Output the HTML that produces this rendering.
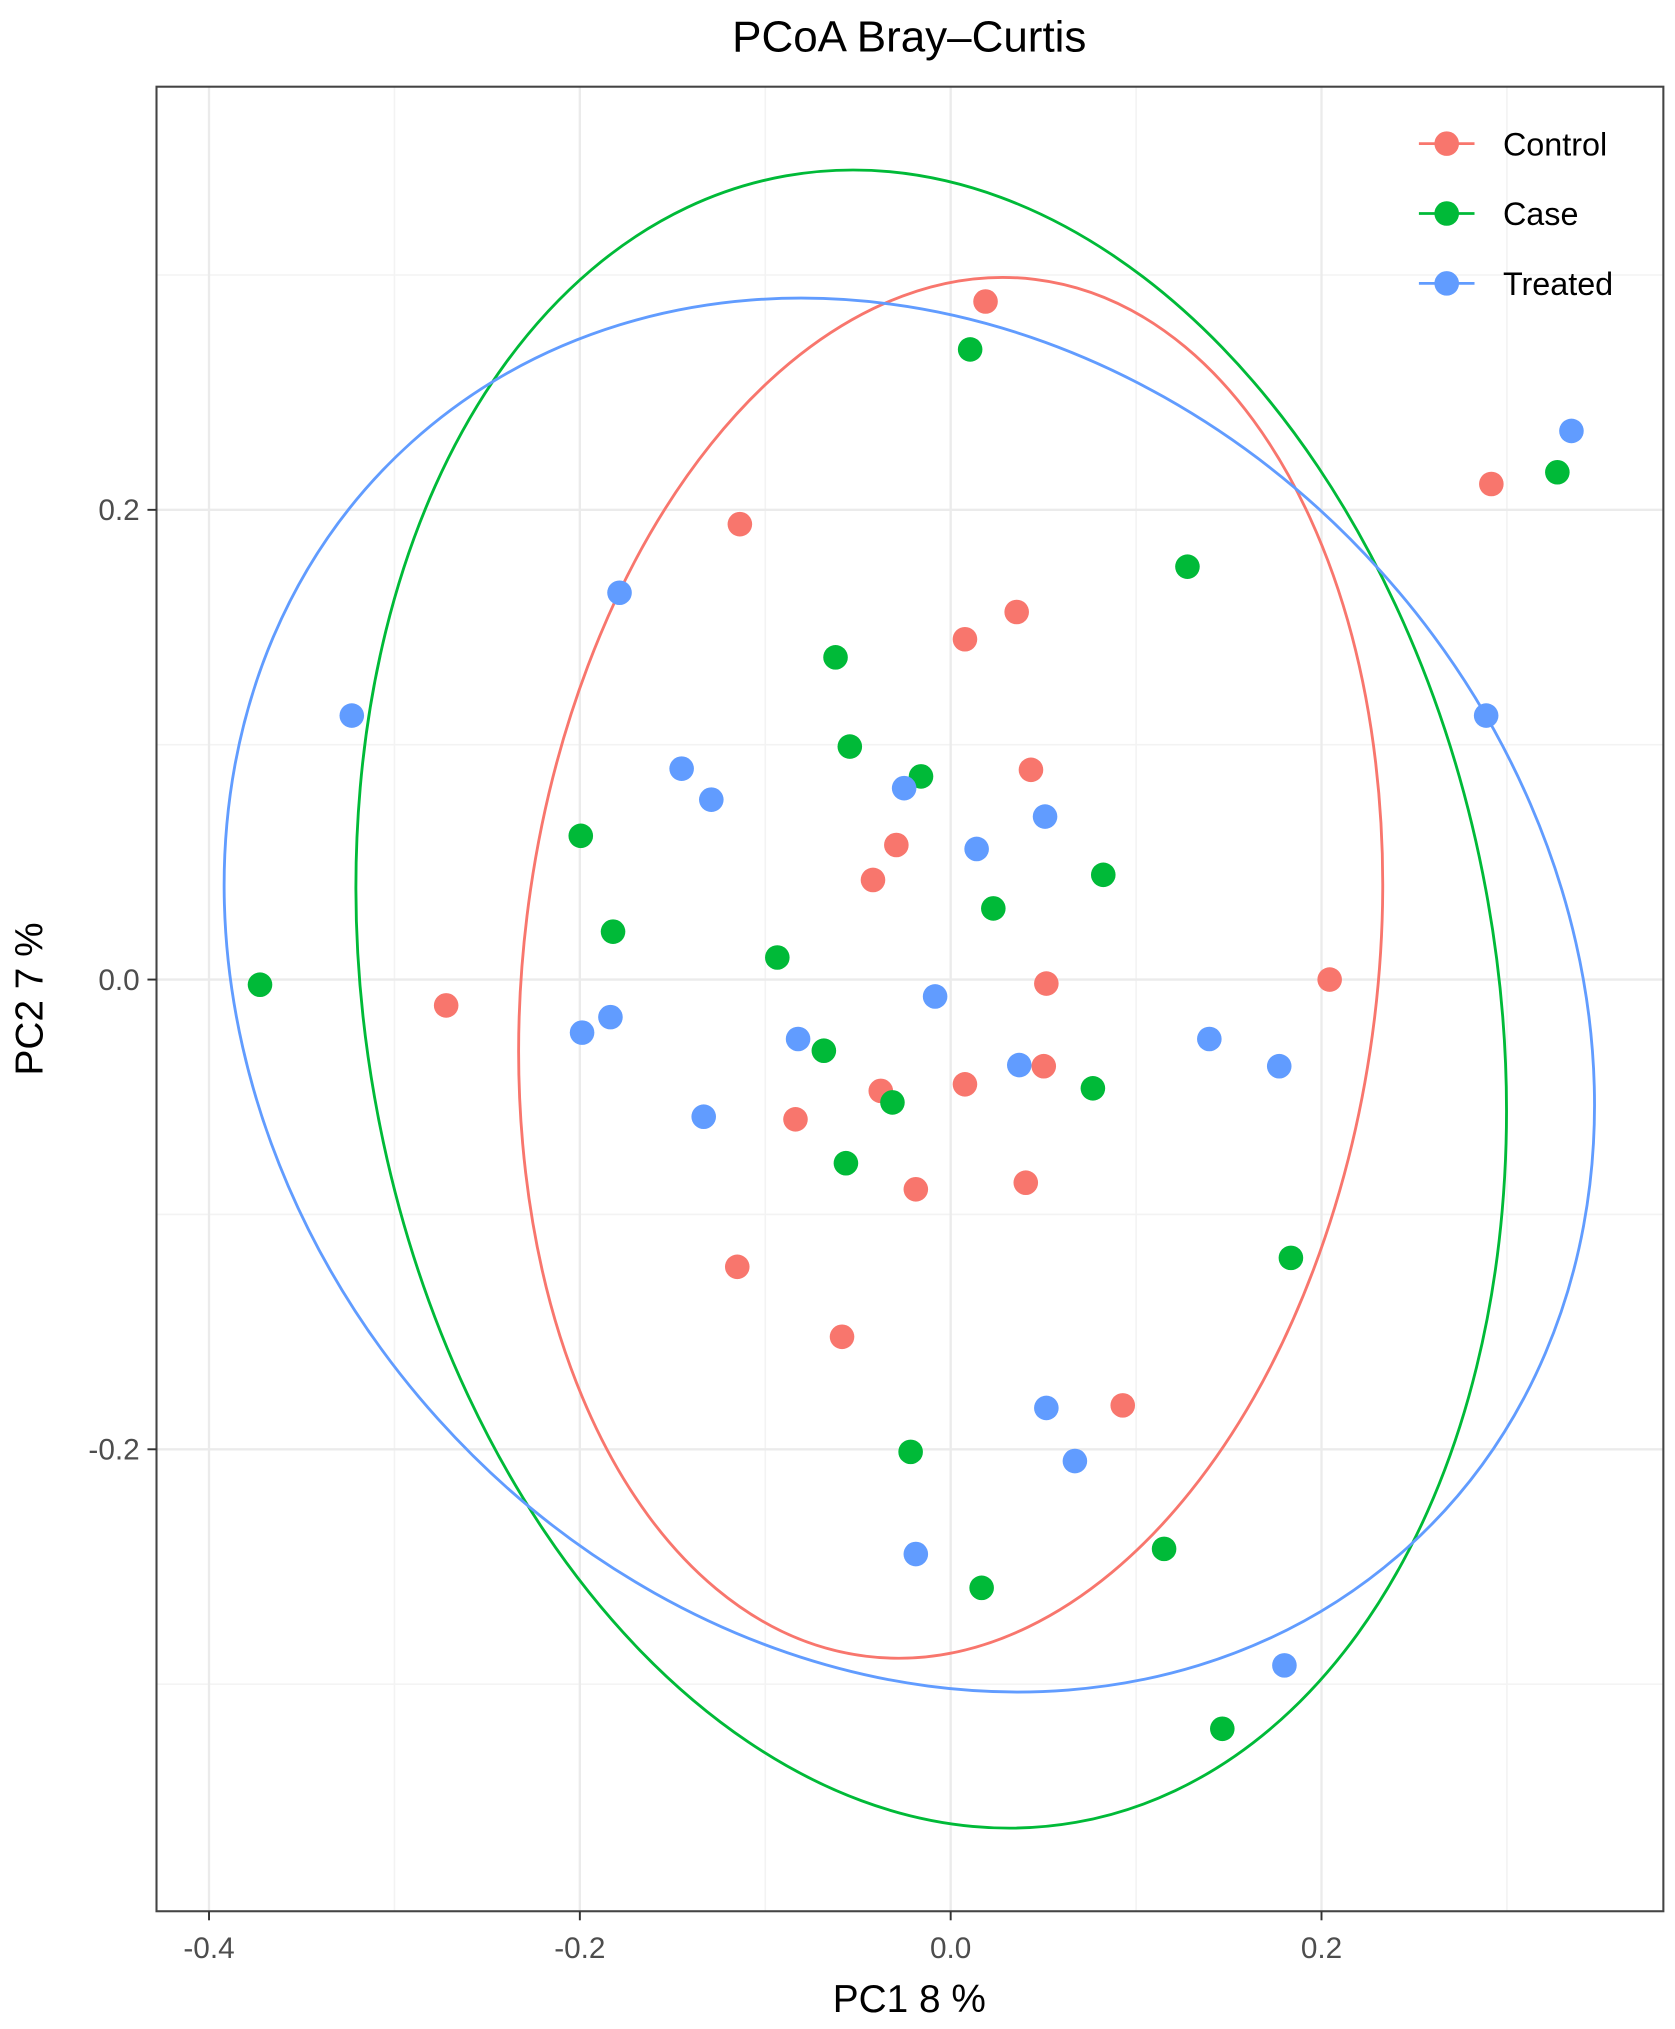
<!DOCTYPE html>
<html><head><meta charset="utf-8"><style>
html,body{margin:0;padding:0;background:#fff;}
svg{display:block;font-family:"Liberation Sans",sans-serif;}
</style></head><body>
<svg id="chart" width="1675" height="2029" viewBox="0 0 1295 1568" preserveAspectRatio="none">
<text x="703" y="40" font-size="34" text-anchor="middle" fill="#000">PCoA Bray–Curtis</text>
<g id="grid"></g>
<g id="ellipses"></g>
<g id="points"></g>
<rect x="121" y="67" width="1165" height="1410" fill="none" stroke="#444" stroke-width="1.6"/>
<g id="axes"></g>
<text x="703" y="1555" font-size="30" text-anchor="middle" fill="#000">PC1 8 %</text>
<text transform="translate(33,772) rotate(-90)" font-size="30" text-anchor="middle" fill="#000">PC2 7 %</text>
<g id="legend"></g>
</svg>
<script>
const groups = ["Control","Case","Treated"];
const colors = ["#F8766D","#00BA38","#619CFF"];
const controlX = [0.0188,-0.1137,0.0077,0.0356,0.0433,-0.0293,-0.0419,-0.2721,0.0516,0.2044,0.0502,0.0077,-0.0377,-0.0837,-0.0188,0.0405,-0.1151,-0.0586,0.0928,0.2916];
const controlY = [0.2887,0.1939,0.1449,0.1565,0.0893,0.0573,0.0424,-0.0110,-0.0017,0.0000,-0.0369,-0.0446,-0.0474,-0.0595,-0.0893,-0.0865,-0.1223,-0.1521,-0.1813,0.2110];
const caseX = [0.0105,0.1277,0.3272,-0.0621,-0.0544,-0.0160,-0.1995,0.0823,0.0230,-0.1821,-0.0935,-0.3725,-0.0684,-0.0314,0.0767,-0.0565,0.1835,-0.0216,0.1151,0.0167,0.1465];
const caseY = [0.2683,0.1758,0.2160,0.1372,0.0992,0.0865,0.0612,0.0446,0.0303,0.0204,0.0094,-0.0022,-0.0303,-0.0523,-0.0463,-0.0782,-0.1185,-0.2011,-0.2424,-0.2590,-0.3190];
const treatedX = [0.3348,-0.1786,-0.3230,0.2888,-0.1451,-0.1291,-0.0251,0.0140,0.0509,-0.0084,-0.1835,-0.1988,-0.0823,0.0370,0.1395,0.1772,-0.1332,0.0516,0.0670,-0.0188,0.1800];
const treatedY = [0.2336,0.1647,0.1124,0.1124,0.0898,0.0766,0.0815,0.0556,0.0694,-0.0072,-0.0160,-0.0226,-0.0253,-0.0364,-0.0253,-0.0369,-0.0584,-0.1824,-0.2050,-0.2446,-0.2920];
const ellipseCx = [0.0, -0.0105, -0.0223];
const ellipseCy = [0.0050, -0.0083, -0.0066];
const xTicks = [-0.4,-0.2,0.0,0.2];
const xTickLabels = ["-0.4","-0.2","0.0","0.2"];
const yTicks = [-0.2,0.0,0.2];
const yTickLabels = ["-0.2","0.0","0.2"];
const xMinor = [-0.3,-0.1,0.1,0.3];
const yMinor = [-0.3,-0.1,0.1,0.3];

const NS="http://www.w3.org/2000/svg";
function xs(v){return 735+v*1433.5;}
function ys(v){return 757-v*1815;}
function mk(tag,attrs,parent){const e=document.createElementNS(NS,tag);for(const k in attrs)e.setAttribute(k,attrs[k]);parent.appendChild(e);return e;}
const grid=document.getElementById('grid');
xMinor.forEach(v=>{const l=mk('line',{x1:xs(v),x2:xs(v),y1:67,y2:1477,stroke:'#f3f3f3','stroke-width':1.2},grid);

});
yMinor.forEach(v=>{const l=mk('line',{x1:121,x2:1286,y1:ys(v),y2:ys(v),stroke:'#f3f3f3','stroke-width':1.2},grid);

});
xTicks.forEach(v=>{const l=mk('line',{x1:xs(v),x2:xs(v),y1:67,y2:1477,stroke:'#ebebeb','stroke-width':1.8},grid);

});
yTicks.forEach(v=>{const l=mk('line',{x1:121,x2:1286,y1:ys(v),y2:ys(v),stroke:'#ebebeb','stroke-width':1.8},grid);

});
const axes=document.getElementById('axes');
xTicks.forEach((v,i)=>{const t=mk('line',{x1:xs(v),x2:xs(v),y1:1477,y2:1484,stroke:'#333','stroke-width':1.5},axes);


const tx=mk('text',{x:xs(v),y:1513,'font-size':23,'text-anchor':'middle',fill:'#4d4d4d'},axes);tx.textContent=xTickLabels[i];

});
yTicks.forEach((v,i)=>{const t=mk('line',{x1:114,x2:121,y1:ys(v),y2:ys(v),stroke:'#333','stroke-width':1.5},axes);


const tx=mk('text',{x:108,y:ys(v)+8,'font-size':23,'text-anchor':'end',fill:'#4d4d4d'},axes);tx.textContent=yTickLabels[i];

});
const el=document.getElementById('ellipses');
const eShape=[[330,536,7],[437,646,-10],[490,575,-42]];
ellipseCx.forEach((cx,i)=>{const cxp=xs(cx),cyp=ys(ellipseCy[i]);
const e=mk('ellipse',{cx:cxp,cy:cyp,rx:eShape[i][0],ry:eShape[i][1],fill:'none',stroke:colors[i],'stroke-width':2.2,transform:`rotate(${eShape[i][2]} ${cxp} ${cyp})`},el);

});
const pts=document.getElementById('points');
const series=[[controlX,controlY],[caseX,caseY],[treatedX,treatedY]];
series.forEach((s,g)=>{s[0].forEach((xv,i)=>{const c=mk('circle',{cx:xs(xv),cy:ys(s[1][i]),r:9.5,fill:colors[g]},pts);

});});
const lg=document.getElementById('legend');
groups.forEach((g,i)=>{const y=111+i*54;
const ent=mk('g',{},lg);


mk('line',{x1:1097,x2:1140,y1:y,y2:y,stroke:colors[i],'stroke-width':2.2},ent);
mk('circle',{cx:1118.5,cy:y,r:9.5,fill:colors[i]},ent);
const t=mk('text',{x:1162,y:y+9,'font-size':25,fill:'#000'},ent);t.textContent=g;});
</script>
</body></html>
